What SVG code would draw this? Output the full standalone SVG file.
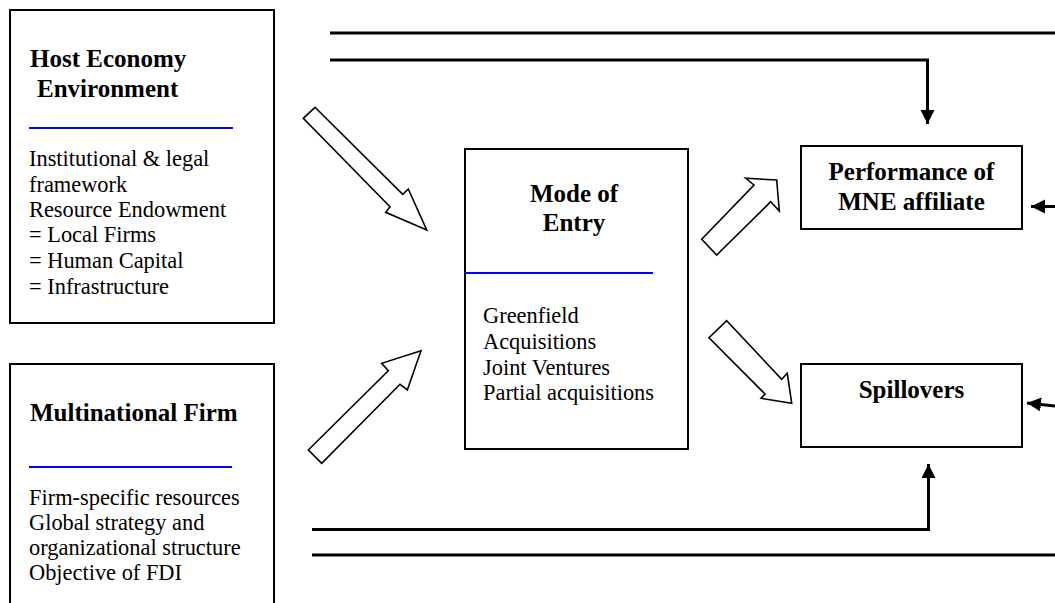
<svg xmlns="http://www.w3.org/2000/svg" width="1055" height="603" viewBox="0 0 1055 603">
<style>
.box{fill:#fff;stroke:#000;stroke-width:2}
.title{font-family:"Liberation Serif","Times New Roman",serif;font-weight:bold;font-size:25px;fill:#000}
.body{font-family:"Liberation Serif","Times New Roman",serif;font-size:22.4px;fill:#000}
.sep{stroke:#0000ff;stroke-width:2}
.conn{fill:none;stroke:#000;stroke-width:3}
.block{fill:#fff;stroke:#000;stroke-width:1.6;stroke-linejoin:miter}
</style>
<defs>
<marker id="ah" markerUnits="userSpaceOnUse" markerWidth="15" markerHeight="15" refX="14" refY="7" orient="auto">
<path d="M0,0 L14,7 L0,14 z" fill="#000"/>
</marker>
</defs>
<rect width="1055" height="603" fill="#fff"/>

<g id="host">
<rect class="box" x="10" y="10" width="264" height="313"/>
<text class="title" x="30" y="67">Host Economy</text>
<text class="title" x="37" y="97">Environment</text>
<line class="sep" x1="29" y1="128" x2="233" y2="128"/>
<text class="body" x="29" y="166">Institutional &amp; legal</text>
<text class="body" x="29" y="192">framework</text>
<text class="body" x="29" y="217">Resource Endowment</text>
<text class="body" x="29" y="242">= Local Firms</text>
<text class="body" x="29" y="268">= Human Capital</text>
<text class="body" x="29" y="294">= Infrastructure</text>
</g>

<g id="mnf">
<rect class="box" x="10" y="364" width="264" height="250"/>
<text class="title" x="30" y="421">Multinational Firm</text>
<line class="sep" x1="29" y1="467" x2="232" y2="467"/>
<text class="body" x="29" y="505">Firm-specific resources</text>
<text class="body" x="29" y="530">Global strategy and</text>
<text class="body" x="29" y="555">organizational structure</text>
<text class="body" x="29" y="580">Objective of FDI</text>
</g>

<g id="mode">
<rect class="box" x="465" y="149" width="223" height="300"/>
<text class="title" x="574" y="202" text-anchor="middle">Mode of</text>
<text class="title" x="574" y="231" text-anchor="middle">Entry</text>
<line class="sep" x1="465" y1="273" x2="653" y2="273"/>
<text class="body" x="483" y="323">Greenfield</text>
<text class="body" x="483" y="349">Acquisitions</text>
<text class="body" x="483" y="375">Joint Ventures</text>
<text class="body" x="483" y="400">Partial acquisitions</text>
</g>

<g id="performance">
<rect class="box" x="801" y="146" width="221" height="83"/>
<text class="title" x="911.5" y="180" text-anchor="middle">Performance of</text>
<text class="title" x="911.5" y="210" text-anchor="middle">MNE affiliate</text>
</g>

<g id="spillovers">
<rect class="box" x="801" y="364" width="221" height="83"/>
<text class="title" x="911.5" y="398" text-anchor="middle">Spillovers</text>
</g>

<g id="connectors">
<polygon class="block" points="315,107.3 402.7,194.3 408.3,189 426.7,230 385.7,212.3 390,206.7 303.3,118.3"/>
<polygon class="block" points="308.3,450 388.3,370.7 381.7,363.3 421,350.7 407.3,390 400,384.3 321.7,463.3"/>
<polygon class="block" points="701.7,239.3 754,185 745.7,178.3 776.7,180 779.3,211 770.7,201.7 716.7,255"/>
<polygon class="block" points="726.7,320.7 781.7,379.3 787.3,373.3 791.7,403.3 761,398.3 765,394 709,337.7"/>
<line class="conn" x1="330" y1="33" x2="1055" y2="33"/>
<polyline class="conn" points="330,60 927.5,60 927.5,124" marker-end="url(#ah)"/>
<line class="conn" x1="1055" y1="206.5" x2="1031" y2="206.5" marker-end="url(#ah)"/>
<line class="conn" x1="1055" y1="406" x2="1027" y2="403" marker-end="url(#ah)"/>
<polyline class="conn" points="312,529.5 928.5,529.5 928.5,464" marker-end="url(#ah)"/>
<line class="conn" x1="312" y1="555" x2="1055" y2="555"/>
</g>
</svg>
